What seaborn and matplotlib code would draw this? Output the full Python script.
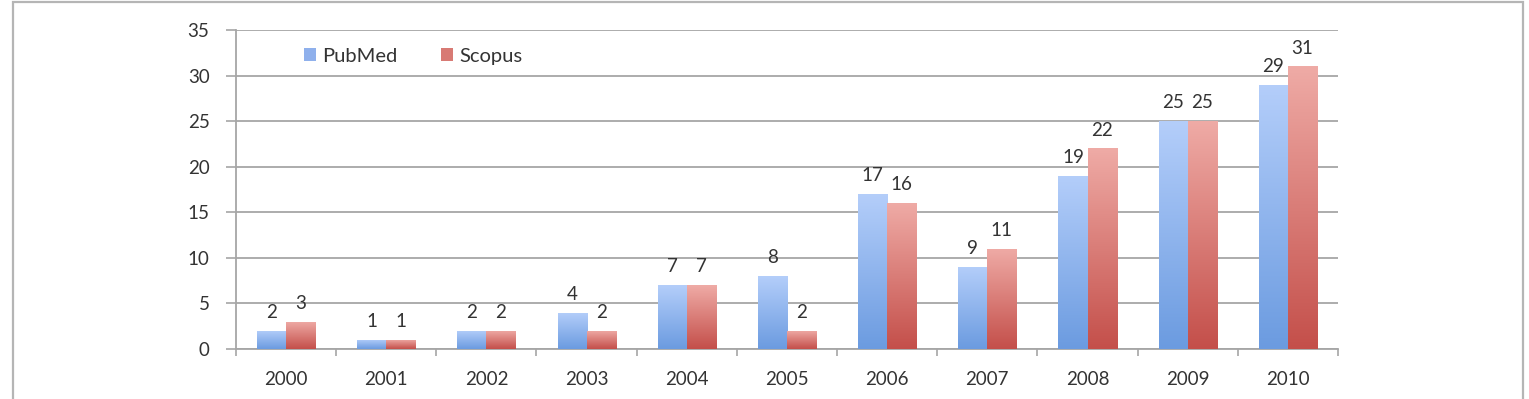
import matplotlib
matplotlib.use("Agg")
import matplotlib.pyplot as plt
import numpy as np
import pandas as pd
import seaborn as sns
from matplotlib.colors import LinearSegmentedColormap
from matplotlib.patches import Patch, Rectangle

years = ['2000', '2001', '2002', '2003', '2004', '2005', '2006', '2007', '2008', '2009', '2010']
pubmed = [2, 1, 2, 4, 7, 8, 17, 9, 19, 25, 29]
scopus = [3, 1, 2, 2, 7, 2, 16, 11, 22, 25, 31]
sources = ['PubMed', 'Scopus']

df = pd.DataFrame({
    'Year': years * 2,
    'Count': pubmed + scopus,
    'Source': ['PubMed'] * len(years) + ['Scopus'] * len(years),
})

sns.set_theme(style="white")
plt.rcParams['font.family'] = ['Lato', 'DejaVu Sans']
text_col = '#333333'

fig = plt.figure(figsize=(15.29, 3.99), dpi=100)
ax = fig.add_axes([0.1543, 0.1253, 0.7208, 0.7995])

# outer frame around the figure
fig.patches.append(Rectangle((13 / 1529, -0.05), 1510 / 1529, 1.05 - 2 / 399,
                             transform=fig.transFigure, fill=False,
                             edgecolor='#b5b5b5', linewidth=1.6))

sns.barplot(data=df, x='Year', y='Count', hue='Source', hue_order=sources,
            width=0.58, gap=0, palette=['#8fb0ec', '#d87a74'],
            edgecolor='none', legend=False, ax=ax, zorder=3)

grads = {
    'PubMed': LinearSegmentedColormap.from_list('pm', ['#6b9be0', '#b4cefa']),
    'Scopus': LinearSegmentedColormap.from_list('sc', ['#c44f4a', '#efaba6']),
}
grad = np.linspace(0, 1, 256).reshape(-1, 1)
for src, cont in zip(sources, ax.containers):
    for bar in cont:
        x0, y0 = bar.get_x(), bar.get_y()
        w, h = bar.get_width(), bar.get_height()
        im = ax.imshow(grad, extent=[x0, x0 + w, y0, y0 + h], origin='lower',
                       aspect='auto', cmap=grads[src], zorder=3)
        im.set_clip_path(bar)
        bar.set_facecolor('none')
    ax.bar_label(cont, padding=7, fontsize=13.5, color=text_col)

ax.set_xlim(-0.5, len(years) - 0.5)
ax.set_ylim(0, 35)
ax.set_yticks(range(0, 36, 5))
ax.yaxis.grid(True, color='#a6a6a6', linewidth=1.3, zorder=0)
ax.set_axisbelow(True)
ax.set_xlabel('')
ax.set_ylabel('')

for s in ['top', 'right']:
    ax.spines[s].set_visible(False)
for s in ['left', 'bottom']:
    ax.spines[s].set_color('#a6a6a6')
    ax.spines[s].set_linewidth(1.3)

ax.set_xticks(np.arange(-0.5, len(years), 1), minor=True)
ax.tick_params(axis='x', which='major', length=0, pad=16, labelsize=13.5, labelcolor=text_col)
ax.tick_params(axis='x', which='minor', direction='out', length=5, width=1.2,
               color='#a6a6a6', bottom=True)
ax.tick_params(axis='y', which='major', direction='out', length=7, width=1.2,
               color='#a6a6a6', left=True, pad=12, labelsize=13.5, labelcolor=text_col)

handles = [Patch(facecolor='#8fb0ec', edgecolor='none'),
           Patch(facecolor='#d87a74', edgecolor='none')]
ax.legend(handles, sources, loc='center left', bbox_to_anchor=(0.045, 0.918),
          ncol=2, frameon=False, fontsize=14.5, handlelength=0.6, handleheight=0.6,
          handletextpad=0.3, columnspacing=2.2, labelcolor=text_col)

fig.savefig('out.png', dpi=100)
